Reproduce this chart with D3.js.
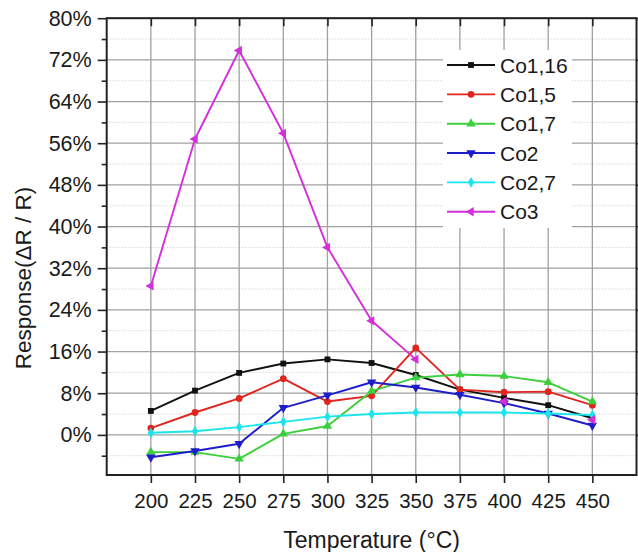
<!DOCTYPE html>
<html>
<head>
<meta charset="utf-8">
<script src="https://cdn.jsdelivr.net/npm/d3@7"></script>
<style>
  html, body { margin: 0; padding: 0; background: #fff; }
  svg { display: block; font-family: "Liberation Sans", Arial, Helvetica, sans-serif; }
</style>
</head>
<body>
<svg id="chart" width="638" height="552"></svg>
<script>
// ---- data (response in %) ----
const temperatures = [200, 225, 250, 275, 300, 325, 350, 375, 400, 425, 450];
const seriesNames = ["Co1,16", "Co1,5", "Co1,7", "Co2", "Co2,7", "Co3"];
const co1_16 = [4.6, 8.5, 11.9, 13.7, 14.5, 13.8, 11.5, 8.7, 7.1, 5.7, 3.2];
const co1_5  = [1.3, 4.3, 7.0, 10.8, 6.4, 7.5, 16.7, 8.7, 8.2, 8.3, 5.7];
const co1_7  = [-3.3, -3.3, -4.6, 0.2, 1.7, 8.4, 11.0, 11.6, 11.3, 10.1, 6.4];
const co2    = [-4.3, -3.1, -1.7, 5.2, 7.6, 10.1, 9.1, 7.7, 6.1, 4.1, 1.8];
const co2_7  = [0.4, 0.7, 1.5, 2.5, 3.5, 4.0, 4.3, 4.3, 4.3, 4.1, 3.8];
const co3    = [28.6, 56.8, 73.8, 57.9, 36.0, 21.9, 14.5, null, 6.4, null, 2.9];
const yTicks = [0, 8, 16, 24, 32, 40, 48, 56, 64, 72, 80];
const yMinorTicks = [-4, 4, 12, 20, 28, 36, 44, 52, 60, 68, 76];

const colors = ["#111111", "#e0241e", "#3ccf3c", "#1e1ec8", "#1ae4ec", "#d42fd8"];
const symbols = [
  { type: d3.symbolSquare, size: 34, rot: 0 },
  { type: d3.symbolCircle, size: 36, rot: 0 },
  { type: d3.symbolTriangle, size: 38, rot: 0 },
  { type: d3.symbolTriangle, size: 38, rot: 180 },
  { type: d3.symbolDiamond, size: 34, rot: 0 },
  { type: d3.symbolTriangle, size: 38, rot: -90 }
];
const seriesValues = [co1_16, co1_5, co1_7, co2, co2_7, co3];

// ---- layout ----
const L = 106.7, R = 636.5, T = 18.2, B = 475;
const svg = d3.select("#chart");

const x = d3.scaleLinear().domain([175, 475]).range([L, R]);
const y = d3.scaleLinear().domain([-7.7, 80]).range([B, T]);

// grid
const grid = svg.append("g");
grid.selectAll("line.minor").data(yMinorTicks).join("line")
  .attr("x1", L).attr("x2", R).attr("y1", d => y(d)).attr("y2", d => y(d))
  .attr("stroke", "#d8d8d8").attr("stroke-width", 1).attr("stroke-dasharray", "1.5,1.5");
grid.selectAll("line.hmaj").data(yTicks).join("line")
  .attr("x1", L).attr("x2", R).attr("y1", d => y(d)).attr("y2", d => y(d))
  .attr("stroke", "#a0a0a0").attr("stroke-width", 1.3);
grid.selectAll("line.vmaj").data(temperatures).join("line")
  .attr("x1", d => x(d)).attr("x2", d => x(d)).attr("y1", T).attr("y2", B)
  .attr("stroke", "#a0a0a0").attr("stroke-width", 1.3);

// axes
const fmt = d => d + "%";
const yAxis = svg.append("g").attr("transform", `translate(${L},0)`)
  .call(d3.axisLeft(y).tickValues(yTicks).tickFormat(fmt).tickSize(9).tickPadding(6));
const yMinor = svg.append("g").attr("transform", `translate(${L},0)`)
  .call(d3.axisLeft(y).tickValues(yMinorTicks).tickFormat("").tickSize(5));
const yRight = svg.append("g").attr("transform", `translate(${R},0)`)
  .call(d3.axisLeft(y).tickValues(yTicks).tickFormat("").tickSize(-8));
const xAxis = svg.append("g").attr("transform", `translate(0,${B})`)
  .call(d3.axisBottom(x).tickValues(temperatures).tickFormat(d3.format("d")).tickSize(8).tickPadding(10));
const xTop = svg.append("g").attr("transform", `translate(0,${T})`)
  .call(d3.axisBottom(x).tickValues(temperatures).tickFormat("").tickSize(8));

[yAxis, yMinor, yRight, xAxis, xTop].forEach(g => {
  g.select(".domain").remove();
  g.selectAll(".tick line").attr("stroke", "#222").attr("stroke-width", 1.6);
  g.selectAll("text").attr("fill", "#1a1a1a")
    .attr("font-family", '"Liberation Sans", Arial, sans-serif');
});
yAxis.selectAll("text").attr("font-size", 21.5);
xAxis.selectAll("text").attr("font-size", 20.5);

// frame
svg.append("rect").attr("x", L).attr("y", T).attr("width", R - L).attr("height", B - T)
  .attr("fill", "none").attr("stroke", "#222").attr("stroke-width", 2);

// series
const line = d3.line().defined(d => d.v !== null).x(d => x(d.t)).y(d => y(d.v));
seriesValues.forEach((vals, i) => {
  const pts = temperatures.map((t, j) => ({ t, v: vals[j] }));
  const g = svg.append("g");
  g.append("path").datum(pts).attr("d", line)
    .attr("fill", "none").attr("stroke", colors[i]).attr("stroke-width", 1.9)
    .attr("stroke-linejoin", "round");
  const sym = d3.symbol().type(symbols[i].type).size(symbols[i].size);
  g.selectAll("path.m").data(pts.filter(d => d.v !== null)).join("path")
    .attr("d", sym)
    .attr("transform", d => `translate(${x(d.t)},${y(d.v)}) rotate(${symbols[i].rot})`)
    .attr("fill", colors[i]);
});

// legend
const lg = svg.append("g");
lg.append("rect").attr("x", 443).attr("y", 50).attr("width", 129).attr("height", 178).attr("fill", "#fff");
const rowY = d3.scaleLinear().domain([0, 5]).range([65, 211.7]);
seriesNames.forEach((name, i) => {
  const cy = rowY(i);
  lg.append("line").attr("x1", 447).attr("x2", 495).attr("y1", cy).attr("y2", cy)
    .attr("stroke", colors[i]).attr("stroke-width", 1.9);
  lg.append("path").attr("d", d3.symbol().type(symbols[i].type).size(symbols[i].size)())
    .attr("transform", `translate(471,${cy}) rotate(${symbols[i].rot})`).attr("fill", colors[i]);
  lg.append("text").attr("x", 500).attr("y", cy).attr("dy", "0.36em")
    .attr("font-size", 21).attr("fill", "#1a1a1a").text(name);
});

// axis titles
svg.append("text").attr("x", (L + R) / 2).attr("y", 548).attr("text-anchor", "middle")
  .attr("font-size", 23).attr("fill", "#1a1a1a").text("Temperature (°C)");
svg.append("text").attr("transform", "translate(31,278) rotate(-90)").attr("text-anchor", "middle")
  .attr("font-size", 22.5).attr("fill", "#1a1a1a").text("Response(ΔR / R)");
</script>
</body>
</html>
